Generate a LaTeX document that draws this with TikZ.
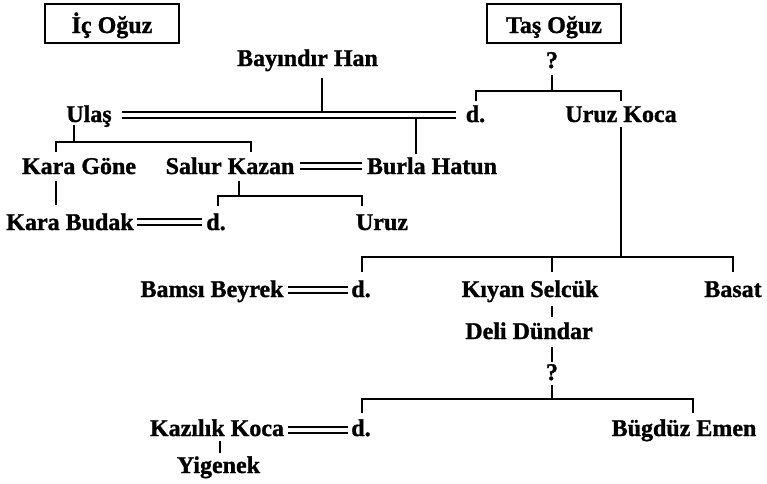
\documentclass[tikz,border=0pt]{standalone}
\usepackage{fontspec}
\setmainfont{Liberation Serif}[BoldFeatures={FakeBold=1.2}]
\begin{document}
\begin{tikzpicture}[x=1pt,y=-1pt,
  every node/.style={inner sep=0pt, anchor=base, font=\fontsize{24}{28}\selectfont\bfseries},
  ln/.style={line width=2.2pt},
  dbl/.style={double, line width=2pt, double distance=4pt},
  boxst/.style={draw, line width=2.2pt, minimum width=134pt, minimum height=39pt, text height=19pt, text depth=0pt}]
\useasboundingbox (0,0) rectangle (767,483);
% group boxes
\node[boxst] (ic) at (112,33) {İç Oğuz};
\node[boxst] (tas) at (554,33) {Taş Oğuz};
% names
\node (bay) at (307.5,66) {Bayındır Han};
\node (q1) at (552,68) {?};
\node (ulas) at (89,122) {Ulaş};
\node (d1) at (475.5,122) {d.};
\node (uruzkoca) at (621,122) {Uruz Koca};
\node (karagone) at (79,174) {Kara Göne};
\node (salur) at (230,174) {Salur Kazan};
\node (burla) at (432,174) {Burla Hatun};
\node (karabudak) at (70,230) {Kara Budak};
\node (d2) at (216,230) {d.};
\node (uruz) at (382,230) {Uruz};
\node (bamsi) at (212,297) {Bamsı Beyrek};
\node (d3) at (361,297) {d.};
\node (kiyan) at (530,297) {Kıyan Selcük};
\node (basat) at (733,297) {Basat};
\node (deli) at (529,339) {Deli Dündar};
\node (q2) at (552,380) {?};
\node (kazilik) at (217,436) {Kazılık Koca};
\node (d4) at (361,436) {d.};
\node (bugduz) at (684,436) {Bügdüz Emen};
\node (yigenek) at (218.5,473) {Yigenek};
% marriage lines
\coordinate (m1a) at (122,115.3); \coordinate (m1b) at (456,115.3);
\draw[dbl] (m1a) -- (m1b);
\coordinate (m2a) at (300,166); \coordinate (m2b) at (362,166);
\draw[dbl] (m2a) -- (m2b);
\coordinate (m3a) at (137,221.5); \coordinate (m3b) at (202,221.5);
\draw[dbl] (m3a) -- (m3b);
\coordinate (m4a) at (288,290); \coordinate (m4b) at (348,290);
\draw[dbl] (m4a) -- (m4b);
\coordinate (m5a) at (288,429.5); \coordinate (m5b) at (348,429.5);
\draw[dbl] (m5a) -- (m5b);
% Bayindir Han to marriage line
\coordinate (bt) at (322,78); \coordinate (bb) at (322,112.3);
\draw[ln] (bt) -- (bb);
% marriage to Burla Hatun
\coordinate (bht) at (416,118.3); \coordinate (bhb) at (416,154);
\draw[ln] (bht) -- (bhb);
% ? -> d. and Uruz Koca
\coordinate (q1b) at (552,75); \coordinate (q1h) at (552,91);
\coordinate (d1t) at (476,101); \coordinate (ukt) at (621,101);
\draw[ln] (q1b) -- (q1h);
\draw[ln] (d1t) -- (d1t |- q1h) -- (ukt |- q1h) -- (ukt);
% Uruz Koca children
\coordinate (ukb) at (621,127); \coordinate (ukh) at (621,257);
\coordinate (c1) at (362,272); \coordinate (c3) at (733,272);
\draw[ln] (ukb) -- (ukh);
\draw[ln] (c1) -- (c1 |- ukh) -- (c3 |- ukh) -- (c3);
\draw[ln] (552,257) -- (552,271.5);
\draw[ln] (552,306) -- (552,317);
\draw[ln] (552,346.5) -- (552,361.5);
\draw[ln] (552,385) -- (552,399);
% Ulas children
\coordinate (ub) at (74,125); \coordinate (uh) at (74,142);
\coordinate (kg) at (56,152); \coordinate (sk) at (251,152);
\draw[ln] (ub) -- (uh);
\draw[ln] (kg) -- (kg |- uh) -- (sk |- uh) -- (sk);
% Kara Gone to Kara Budak
\coordinate (kgb) at (56,181); \coordinate (kbt) at (56,205);
\draw[ln] (kgb) -- (kbt);
% Salur Kazan children
\coordinate (skb) at (239,181); \coordinate (skh) at (239,196);
\coordinate (s1) at (218,206); \coordinate (s2) at (362,206);
\draw[ln] (skb) -- (skh);
\draw[ln] (s1) -- (s1 |- skh) -- (s2 |- skh) -- (s2);
% ? (second) children
\coordinate (qh) at (552,399);
\coordinate (g1) at (362,413); \coordinate (g2) at (693,413);
\draw[ln] (g1) -- (g1 |- qh) -- (g2 |- qh) -- (g2);
% Kazilik Koca to Yigenek
\coordinate (kkb) at (220,441); \coordinate (ygt) at (220,453);
\draw[line width=1.6pt] (kkb) -- (ygt);
\end{tikzpicture}
\end{document}
